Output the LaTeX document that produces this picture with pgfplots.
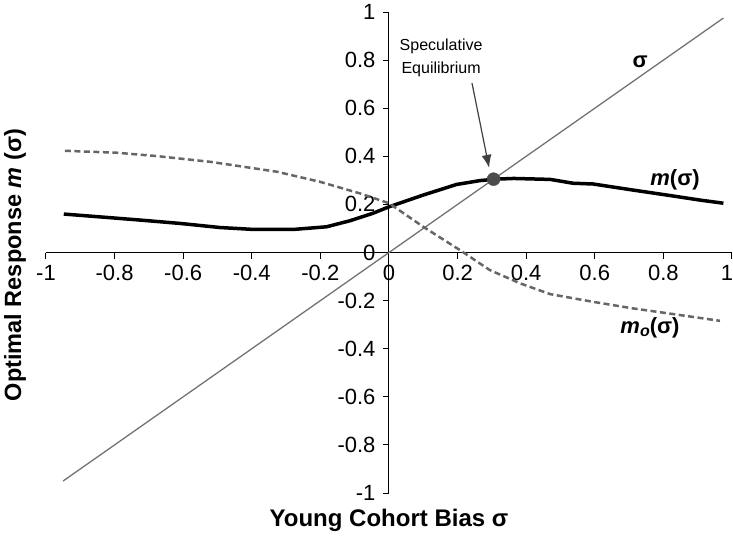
\documentclass[border=0pt]{standalone}
\usepackage{fontspec}
\setmainfont{Liberation Sans}
\usepackage{pgfplots}
\pgfplotsset{compat=1.18}
\usetikzlibrary{arrows.meta}

\pgfplotstableread{
x y
-0.950 -0.950
0.975 0.975
}\sigmaline

\pgfplotstableread{
x y
-0.948 0.160
-0.823 0.146
-0.726 0.135
-0.609 0.121
-0.493 0.104
-0.395 0.096
-0.279 0.096
-0.182 0.107
-0.114 0.132
-0.047 0.163
0.000 0.190
0.100 0.239
0.197 0.283
0.265 0.299
0.309 0.305
0.364 0.308
0.470 0.304
0.537 0.288
0.595 0.285
0.710 0.260
0.810 0.239
0.907 0.218
0.975 0.205
}\mline

\pgfplotstableread{
x y
-0.945 0.423
-0.794 0.415
-0.677 0.401
-0.520 0.377
-0.327 0.336
-0.201 0.294
-0.085 0.246
0.000 0.205
0.100 0.107
0.207 0.010
0.294 -0.073
0.382 -0.128
0.470 -0.173
0.595 -0.205
0.710 -0.232
0.829 -0.256
0.965 -0.284
}\moline

\begin{document}
\begin{tikzpicture}
\begin{axis}[
  scale only axis, width=686pt, height=481pt,
  axis lines=middle,
  xmin=-1, xmax=1, ymin=-1, ymax=1,
  xtick={-1,-0.8,-0.6,-0.4,-0.2,0,0.2,0.4,0.6,0.8,1},
  xticklabels={-1,-0.8,-0.6,-0.4,-0.2,0,0.2,0.4,0.6,0.8,\hspace*{-10pt}1},
  ytick={-1,-0.8,-0.6,-0.4,-0.2,0,0.2,0.4,0.6,0.8,1},
  yticklabels={-1,-0.8,-0.6,-0.4,-0.2,0,0.2,0.4,0.6,0.8,1},
  hide obscured x ticks=false, hide obscured y ticks=false,
  tick align=outside, major tick length=6pt,
  axis line style={line width=1pt,-},
  every tick/.style={black, line width=1pt},
  tick label style={font=\fontsize{22}{26}\selectfont},
  xticklabel style={yshift=-3pt},
  yticklabel style={xshift=-4pt},
  clip=false,
]
\addplot[gray!90!black, line width=1.3pt] table {\sigmaline};
\addplot[black, line width=3.5pt] table {\mline};
\addplot[black!60, line width=2.5pt, dash pattern=on 6pt off 3.5pt] table {\moline};
\addplot[only marks, mark=*, mark size=6.5pt, mark options={fill=black!70, draw=black!70}] coordinates {(0.305,0.305)};
\draw[black!75, line width=1.2pt, -{Latex[length=13pt,width=10pt]}] (axis cs:0.242,0.705) -- (axis cs:0.292,0.352);

\node[font=\fontsize{16}{23}\selectfont, align=center] at (axis cs:0.152,0.81) {Speculative\\Equilibrium};
\node[font=\bfseries\fontsize{22}{26}\selectfont] at (axis cs:0.732,0.793) {σ};
\node[font=\bfseries\fontsize{22}{26}\selectfont] at (axis cs:0.834,0.301) {\textit{m}(σ)};
\node[font=\bfseries\fontsize{22}{26}\selectfont] at (axis cs:0.761,-0.314) {\textit{m\raisebox{-0.25ex}{\fontsize{16}{18}\selectfont o}}(σ)};

\node[font=\bfseries\fontsize{24}{28}\selectfont] at (axis cs:0,-1.112) {Young Cohort Bias σ};
\node[font=\bfseries\fontsize{23.5}{27}\selectfont, rotate=90] at (axis cs:-1.09,-0.052) {Optimal Response \textit{m} (σ)};

\coordinate (bbl) at (axis cs:-1.134,-1.204);
\coordinate (btr) at (axis cs:1.003,1.05);
\end{axis}
\pgfresetboundingbox
\path[use as bounding box] (bbl) rectangle (btr);
\end{tikzpicture}
\end{document}
